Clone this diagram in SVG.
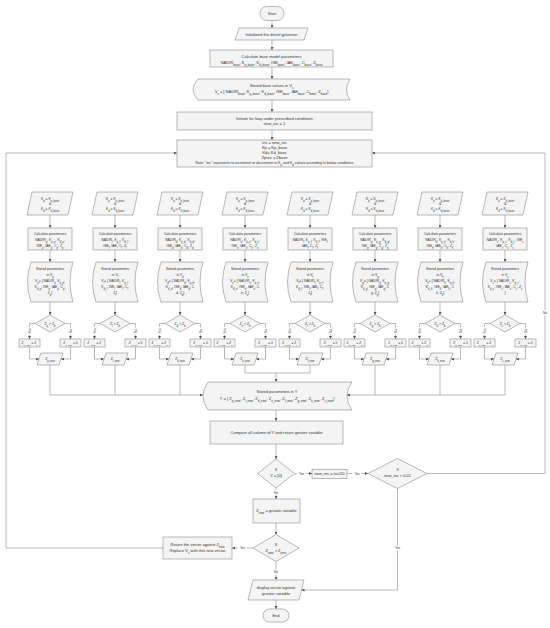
<svg xmlns="http://www.w3.org/2000/svg" width="550" height="628" viewBox="0 0 550 628">
<defs>
<style>
.n{fill:#f4f4f4;stroke:#8c8c8c;stroke-width:0.6}
.t{font-family:"Liberation Sans",Arial,sans-serif;font-size:4px;fill:#333;text-anchor:middle}
.ts{font-size:3.4px}
.tb{font-size:3.2px}
.tl{font-family:"Liberation Sans",Arial,sans-serif;font-size:3.2px;fill:#333;text-anchor:middle}
.sb{font-size:75%;baseline-shift:sub}
.c{fill:none;stroke:#8c8c8c;stroke-width:0.6}
.a{marker-end:url(#ah)}
.bg{fill:#fff}
</style>
<marker id="ah" viewBox="0 0 6 6" refX="6" refY="3" markerWidth="3" markerHeight="3" orient="auto" markerUnits="userSpaceOnUse"><path d="M0,0 L6,3 L0,6 z" fill="#555"/></marker>
</defs>
<rect width="550" height="628" fill="#fff"/>

<g id="connectors">
<line class="c a" x1="272" y1="20.5" x2="272" y2="28"/>
<line class="c a" x1="272" y1="40" x2="272" y2="50"/>
<line class="c a" x1="272" y1="67" x2="272" y2="79"/>
<line class="c a" x1="272" y1="100" x2="272" y2="112"/>
<line class="c a" x1="272" y1="130" x2="272" y2="140"/>
<polyline class="c a" points="163,548 6,548 6,153 177,153"/>
<polyline class="c a" points="427,473.5 545,473.5 545,153 372,153"/>
<rect class="bg" x="541" y="310" width="8" height="5"/>
<text class="tl" x="545" y="313.8">No</text>
<polyline class="c a" points="50,365 50,395 203,395"/>
<line class="c" x1="115" y1="365" x2="115" y2="395"/>
<line class="c" x1="180" y1="365" x2="180" y2="395"/>
<polyline class="c a" points="505,365 505,395 347,395"/>
<line class="c" x1="375" y1="365" x2="375" y2="395"/>
<line class="c" x1="440" y1="365" x2="440" y2="395"/>
<polyline class="c" points="245,365 245,373 310,373 310,365"/>
<line class="c a" x1="276" y1="373" x2="276" y2="382"/>
<line class="c a" x1="276" y1="410" x2="276" y2="421"/>
<line class="c a" x1="276" y1="444" x2="276" y2="459"/>
<line class="c a" x1="294.5" y1="473.5" x2="312" y2="473.5"/>
<rect class="bg" x="297" y="471" width="9" height="5"/>
<text class="tl" x="301.5" y="474.7">Yes</text>
<line class="c a" x1="347" y1="473.5" x2="368" y2="473.5"/>
<rect class="bg" x="352.5" y="471" width="9" height="5"/>
<text class="tl" x="357" y="474.7">Yes</text>
<line class="c a" x1="276" y1="488" x2="276" y2="499"/>
<rect class="bg" x="272" y="490" width="8" height="5"/>
<text class="tl" x="276" y="493.7">No</text>
<line class="c a" x1="276" y1="523" x2="276" y2="534.5"/>
<line class="c a" x1="253" y1="548" x2="232" y2="548"/>
<rect class="bg" x="238" y="545.5" width="9" height="5"/>
<text class="tl" x="242.5" y="549.2">Yes</text>
<line class="c a" x1="276" y1="561.5" x2="276" y2="580"/>
<rect class="bg" x="272" y="569.5" width="8" height="5"/>
<text class="tl" x="276" y="573.2">No</text>
<polyline class="c a" points="397.5,488 397.5,590 301.5,590"/>
<rect class="bg" x="393" y="545.5" width="9" height="5"/>
<text class="tl" x="397.5" y="549.2">Yes</text>
<line class="c a" x1="276" y1="600" x2="276" y2="609"/>
<g id="col-conn">
<g transform="translate(50,0)"><line class="c a" x1="0" y1="215" x2="0" y2="228"/><line class="c a" x1="0" y1="250" x2="0" y2="262"/><line class="c a" x1="0" y1="302" x2="0" y2="315"/><polyline class="c a" points="-15,323.5 -20.5,323.5 -20.5,339"/><polyline class="c a" points="15,323.5 20.5,323.5 20.5,339"/><polyline class="c a" points="-20.5,347 -20.5,359 -11,359"/><polyline class="c a" points="20.5,347 20.5,359 11,359"/></g>
<g transform="translate(115,0)"><line class="c a" x1="0" y1="215" x2="0" y2="228"/><line class="c a" x1="0" y1="250" x2="0" y2="262"/><line class="c a" x1="0" y1="302" x2="0" y2="315"/><polyline class="c a" points="-15,323.5 -20.5,323.5 -20.5,339"/><polyline class="c a" points="15,323.5 20.5,323.5 20.5,339"/><polyline class="c a" points="-20.5,347 -20.5,359 -11,359"/><polyline class="c a" points="20.5,347 20.5,359 11,359"/></g>
<g transform="translate(180,0)"><line class="c a" x1="0" y1="215" x2="0" y2="228"/><line class="c a" x1="0" y1="250" x2="0" y2="262"/><line class="c a" x1="0" y1="302" x2="0" y2="315"/><polyline class="c a" points="-15,323.5 -20.5,323.5 -20.5,339"/><polyline class="c a" points="15,323.5 20.5,323.5 20.5,339"/><polyline class="c a" points="-20.5,347 -20.5,359 -11,359"/><polyline class="c a" points="20.5,347 20.5,359 11,359"/></g>
<g transform="translate(245,0)"><line class="c a" x1="0" y1="215" x2="0" y2="228"/><line class="c a" x1="0" y1="250" x2="0" y2="262"/><line class="c a" x1="0" y1="302" x2="0" y2="315"/><polyline class="c a" points="-15,323.5 -20.5,323.5 -20.5,339"/><polyline class="c a" points="15,323.5 20.5,323.5 20.5,339"/><polyline class="c a" points="-20.5,347 -20.5,359 -11,359"/><polyline class="c a" points="20.5,347 20.5,359 11,359"/></g>
<g transform="translate(310,0)"><line class="c a" x1="0" y1="215" x2="0" y2="228"/><line class="c a" x1="0" y1="250" x2="0" y2="262"/><line class="c a" x1="0" y1="302" x2="0" y2="315"/><polyline class="c a" points="-15,323.5 -20.5,323.5 -20.5,339"/><polyline class="c a" points="15,323.5 20.5,323.5 20.5,339"/><polyline class="c a" points="-20.5,347 -20.5,359 -11,359"/><polyline class="c a" points="20.5,347 20.5,359 11,359"/></g>
<g transform="translate(375,0)"><line class="c a" x1="0" y1="215" x2="0" y2="228"/><line class="c a" x1="0" y1="250" x2="0" y2="262"/><line class="c a" x1="0" y1="302" x2="0" y2="315"/><polyline class="c a" points="-15,323.5 -20.5,323.5 -20.5,339"/><polyline class="c a" points="15,323.5 20.5,323.5 20.5,339"/><polyline class="c a" points="-20.5,347 -20.5,359 -11,359"/><polyline class="c a" points="20.5,347 20.5,359 11,359"/></g>
<g transform="translate(440,0)"><line class="c a" x1="0" y1="215" x2="0" y2="228"/><line class="c a" x1="0" y1="250" x2="0" y2="262"/><line class="c a" x1="0" y1="302" x2="0" y2="315"/><polyline class="c a" points="-15,323.5 -20.5,323.5 -20.5,339"/><polyline class="c a" points="15,323.5 20.5,323.5 20.5,339"/><polyline class="c a" points="-20.5,347 -20.5,359 -11,359"/><polyline class="c a" points="20.5,347 20.5,359 11,359"/></g>
<g transform="translate(505,0)"><line class="c a" x1="0" y1="215" x2="0" y2="228"/><line class="c a" x1="0" y1="250" x2="0" y2="262"/><line class="c a" x1="0" y1="302" x2="0" y2="315"/><polyline class="c a" points="-15,323.5 -20.5,323.5 -20.5,339"/><polyline class="c a" points="15,323.5 20.5,323.5 20.5,339"/><polyline class="c a" points="-20.5,347 -20.5,359 -11,359"/><polyline class="c a" points="20.5,347 20.5,359 11,359"/></g>
</g>
<g id="yn-labels">
<g transform="translate(50,0)"><rect class="bg" x="-22.5" y="327" width="4" height="8"/><text class="tl" x="-331" y="-19.3" transform="rotate(-90)">Yes</text><rect class="bg" x="18.5" y="327.5" width="4" height="7"/><text class="tl" x="-331" y="21.7" transform="rotate(-90)">No</text></g>
<g transform="translate(115,0)"><rect class="bg" x="-22.5" y="327" width="4" height="8"/><text class="tl" x="-331" y="-19.3" transform="rotate(-90)">Yes</text><rect class="bg" x="18.5" y="327.5" width="4" height="7"/><text class="tl" x="-331" y="21.7" transform="rotate(-90)">No</text></g>
<g transform="translate(180,0)"><rect class="bg" x="-22.5" y="327" width="4" height="8"/><text class="tl" x="-331" y="-19.3" transform="rotate(-90)">Yes</text><rect class="bg" x="18.5" y="327.5" width="4" height="7"/><text class="tl" x="-331" y="21.7" transform="rotate(-90)">No</text></g>
<g transform="translate(245,0)"><rect class="bg" x="-22.5" y="327" width="4" height="8"/><text class="tl" x="-331" y="-19.3" transform="rotate(-90)">Yes</text><rect class="bg" x="18.5" y="327.5" width="4" height="7"/><text class="tl" x="-331" y="21.7" transform="rotate(-90)">No</text></g>
<g transform="translate(310,0)"><rect class="bg" x="-22.5" y="327" width="4" height="8"/><text class="tl" x="-331" y="-19.3" transform="rotate(-90)">Yes</text><rect class="bg" x="18.5" y="327.5" width="4" height="7"/><text class="tl" x="-331" y="21.7" transform="rotate(-90)">No</text></g>
<g transform="translate(375,0)"><rect class="bg" x="-22.5" y="327" width="4" height="8"/><text class="tl" x="-331" y="-19.3" transform="rotate(-90)">Yes</text><rect class="bg" x="18.5" y="327.5" width="4" height="7"/><text class="tl" x="-331" y="21.7" transform="rotate(-90)">No</text></g>
<g transform="translate(440,0)"><rect class="bg" x="-22.5" y="327" width="4" height="8"/><text class="tl" x="-331" y="-19.3" transform="rotate(-90)">Yes</text><rect class="bg" x="18.5" y="327.5" width="4" height="7"/><text class="tl" x="-331" y="21.7" transform="rotate(-90)">No</text></g>
<g transform="translate(505,0)"><rect class="bg" x="-22.5" y="327" width="4" height="8"/><text class="tl" x="-331" y="-19.3" transform="rotate(-90)">Yes</text><rect class="bg" x="18.5" y="327.5" width="4" height="7"/><text class="tl" x="-331" y="21.7" transform="rotate(-90)">No</text></g>
</g>
</g>

<g id="start"><rect class="n" x="260" y="6.5" width="24" height="14" rx="7"/><text class="t" x="272" y="15">Start</text></g>
<g id="init"><polygon class="n" points="239,28 308,28 304,40 235,40"/><text class="t" x="271.5" y="35.5">Initialized the diesel governor</text></g>
<g id="calc-base"><rect class="n" x="210" y="50" width="123" height="17"/><text class="t" x="271.5" y="57.5">Calculate base model parameters</text><text class="t" x="271.5" y="63.5">NADIR<tspan class="sb">base</tspan>, K<tspan class="sb">p_base</tspan>, K<tspan class="sb">d_base</tspan>, ISE<tspan class="sb">base</tspan>, IAE<tspan class="sb">base</tspan>, C<tspan class="sb">base</tspan>, Z<tspan class="sb">base</tspan></text></g>
<g id="store-base"><path class="n" d="M198,79 H350 Q343,89.5 350,100 H198 Q188,89.5 198,79 Z"/><text class="t" x="271.5" y="86.5">Stored base values in V<tspan class="sb">s</tspan></text><text class="t" x="271.5" y="93">V<tspan class="sb">s</tspan> = [ NADIR<tspan class="sb">base</tspan>, K<tspan class="sb">p_base</tspan>, K<tspan class="sb">d_base</tspan>, ISE<tspan class="sb">base</tspan>, IAE<tspan class="sb">base</tspan>, C<tspan class="sb">base</tspan>, Z<tspan class="sb">base</tspan>]</text></g>
<g id="loop-init"><rect class="n" x="177" y="112" width="195" height="18"/><text class="t" x="274.5" y="119.5">Initiate for loop under prescribed conditions</text><text class="t" x="274.5" y="125">new_inc = 1</text></g>
<g id="inc"><rect class="n" x="177" y="140" width="195" height="27"/><text class="t" x="274.5" y="144.3">inc = new_inc</text><text class="t" x="274.5" y="149.1">Kp = Kp_base</text><text class="t" x="274.5" y="153.9">Kd= Kd_base</text><text class="t" x="274.5" y="158.7">Zprev = Zbase</text><text class="t" x="274.5" y="163.7" style="font-size:3.6px">Note: "inc" represents to increment or decrement in K<tspan class="sb">p</tspan> and K<tspan class="sb">d</tspan> values according to below conditions</text></g>

<g id="columns">
<g id="col-p" transform="translate(50,0)">
<g id="set-p"><polygon class="n" points="-18,192 23,192 18,215 -23,215"/><text class="t ts" x="0" y="199.5">K<tspan class="sb">p</tspan> = K<tspan class="sb">p_base</tspan></text><text class="t ts" x="0" y="204.5">&amp;</text><text class="t ts" x="0" y="210">K<tspan class="sb">d</tspan> = K<tspan class="sb">d_base</tspan></text></g>
<g id="calc-p"><rect class="n" x="-22" y="228" width="44" height="22"/><text class="t ts" x="0" y="234.5">Calculate parameters</text><text class="t ts" x="0" y="240.5">NADIR<tspan class="sb">p</tspan>, K<tspan class="sb">p_p</tspan>, K<tspan class="sb">d_p</tspan>,</text><text class="t ts" x="0" y="246.5">ISE<tspan class="sb">p</tspan>, IAE<tspan class="sb">p</tspan>, C<tspan class="sb">p</tspan>, Z<tspan class="sb">p</tspan></text></g>
<g id="store-p"><path class="n" d="M-19,262 H23 Q17,282 23,302 H-19 Q-26,282 -19,262 Z"/><text class="t ts" x="0" y="270">Stored parameters</text><text class="t ts" x="0" y="275.5">in V<tspan class="sb">p</tspan></text><text class="t ts" x="0" y="282">V<tspan class="sb">p</tspan>= [ NADIR<tspan class="sb">p</tspan>, K<tspan class="sb">p_p</tspan>,</text><text class="t ts" x="0" y="288">K<tspan class="sb">d_p</tspan>, ISE<tspan class="sb">p</tspan>, IAE<tspan class="sb">p</tspan>, C<tspan class="sb">p</tspan>,</text><text class="t ts" x="0" y="294">Z<tspan class="sb">p</tspan>]</text></g>
<g id="dec-p"><polygon class="n" points="0,315 15,323.5 0,332 -15,323.5"/><text class="t ts" x="0" y="324.8">Z<tspan class="sb">p</tspan> &gt; Z<tspan class="sb">b</tspan></text></g>
<g id="yes-p"><rect class="n" x="-31" y="339" width="21" height="8"/><text class="t tb" x="-20.5" y="344.2">Z<tspan class="sb">p_new</tspan> = Z<tspan class="sb">p</tspan></text></g>
<g id="no-p"><rect class="n" x="10" y="339" width="21" height="8"/><text class="t tb" x="20.5" y="344.2">Z<tspan class="sb">p_new</tspan> = 0</text></g>
<g id="out-p"><polygon class="n" points="-9,353 13,353 9,365 -13,365"/><text class="t ts" x="0" y="360.3">Z<tspan class="sb">p_new</tspan></text></g>
</g>
<g id="col-l" transform="translate(115,0)">
<g id="set-l"><polygon class="n" points="-18,192 23,192 18,215 -23,215"/><text class="t ts" x="0" y="199.5">K<tspan class="sb">p</tspan> = K<tspan class="sb">p_base</tspan></text><text class="t ts" x="0" y="204.5">&amp;</text><text class="t ts" x="0" y="210">K<tspan class="sb">d</tspan> = K<tspan class="sb">d_base</tspan></text></g>
<g id="calc-l"><rect class="n" x="-22" y="228" width="44" height="22"/><text class="t ts" x="0" y="234.5">Calculate parameters</text><text class="t ts" x="0" y="240.5">NADIR<tspan class="sb">l</tspan>, K<tspan class="sb">p_l</tspan>, K<tspan class="sb">d_l</tspan>,</text><text class="t ts" x="0" y="246.5">ISE<tspan class="sb">l</tspan>, IAE<tspan class="sb">l</tspan>, C<tspan class="sb">l</tspan>, Z<tspan class="sb">l</tspan></text></g>
<g id="store-l"><path class="n" d="M-19,262 H23 Q17,282 23,302 H-19 Q-26,282 -19,262 Z"/><text class="t ts" x="0" y="270">Stored parameters</text><text class="t ts" x="0" y="275.5">in V<tspan class="sb">l</tspan></text><text class="t ts" x="0" y="282">V<tspan class="sb">l</tspan>= [ NADIR<tspan class="sb">l</tspan>, K<tspan class="sb">p_l</tspan>,</text><text class="t ts" x="0" y="288">K<tspan class="sb">d_l</tspan>, ISE<tspan class="sb">l</tspan>, IAE<tspan class="sb">l</tspan>, C<tspan class="sb">l</tspan>,</text><text class="t ts" x="0" y="294">Z<tspan class="sb">l</tspan>]</text></g>
<g id="dec-l"><polygon class="n" points="0,315 15,323.5 0,332 -15,323.5"/><text class="t ts" x="0" y="324.8">Z<tspan class="sb">l</tspan> &gt; Z<tspan class="sb">b</tspan></text></g>
<g id="yes-l"><rect class="n" x="-31" y="339" width="21" height="8"/><text class="t tb" x="-20.5" y="344.2">Z<tspan class="sb">l_new</tspan> = Z<tspan class="sb">l</tspan></text></g>
<g id="no-l"><rect class="n" x="10" y="339" width="21" height="8"/><text class="t tb" x="20.5" y="344.2">Z<tspan class="sb">l_new</tspan> = 0</text></g>
<g id="out-l"><polygon class="n" points="-9,353 13,353 9,365 -13,365"/><text class="t ts" x="0" y="360.3">Z<tspan class="sb">l_new</tspan></text></g>
</g>
<g id="col-d" transform="translate(180,0)">
<g id="set-d"><polygon class="n" points="-18,192 23,192 18,215 -23,215"/><text class="t ts" x="0" y="199.5">K<tspan class="sb">p</tspan> = K<tspan class="sb">p_base</tspan></text><text class="t ts" x="0" y="204.5">&amp;</text><text class="t ts" x="0" y="210">K<tspan class="sb">d</tspan> = K<tspan class="sb">d_base</tspan></text></g>
<g id="calc-d"><rect class="n" x="-22" y="228" width="44" height="22"/><text class="t ts" x="0" y="234.5">Calculate parameters</text><text class="t ts" x="0" y="240.5">NADIR<tspan class="sb">d</tspan>, K<tspan class="sb">p_d</tspan>, K<tspan class="sb">d_d</tspan>,</text><text class="t ts" x="0" y="246.5">ISE<tspan class="sb">d</tspan>, IAE<tspan class="sb">d</tspan>, C<tspan class="sb">d</tspan>, Z<tspan class="sb">d</tspan></text></g>
<g id="store-d"><path class="n" d="M-19,262 H23 Q17,282 23,302 H-19 Q-26,282 -19,262 Z"/><text class="t ts" x="0" y="270">Stored parameters</text><text class="t ts" x="0" y="275.5">in V<tspan class="sb">d</tspan></text><text class="t ts" x="0" y="282">V<tspan class="sb">d</tspan>= [ NADIR<tspan class="sb">d</tspan>, K<tspan class="sb">p_d</tspan>,</text><text class="t ts" x="0" y="288">K<tspan class="sb">d_d</tspan>, ISE<tspan class="sb">d</tspan>, IAE<tspan class="sb">d</tspan>, C</text><text class="t ts" x="0" y="294">d, Z<tspan class="sb">d</tspan>]</text></g>
<g id="dec-d"><polygon class="n" points="0,315 15,323.5 0,332 -15,323.5"/><text class="t ts" x="0" y="324.8">Z<tspan class="sb">d</tspan> &gt; Z<tspan class="sb">b</tspan></text></g>
<g id="yes-d"><rect class="n" x="-31" y="339" width="21" height="8"/><text class="t tb" x="-20.5" y="344.2">Z<tspan class="sb">d_new</tspan> = Z<tspan class="sb">d</tspan></text></g>
<g id="no-d"><rect class="n" x="10" y="339" width="21" height="8"/><text class="t tb" x="20.5" y="344.2">Z<tspan class="sb">d_new</tspan> = 0</text></g>
<g id="out-d"><polygon class="n" points="-9,353 13,353 9,365 -13,365"/><text class="t ts" x="0" y="360.3">Z<tspan class="sb">d_new</tspan></text></g>
</g>
<g id="col-e" transform="translate(245,0)">
<g id="set-e"><polygon class="n" points="-18,192 23,192 18,215 -23,215"/><text class="t ts" x="0" y="199.5">K<tspan class="sb">p</tspan> = K<tspan class="sb">p_base</tspan></text><text class="t ts" x="0" y="204.5">&amp;</text><text class="t ts" x="0" y="210">K<tspan class="sb">d</tspan> = K<tspan class="sb">d_base</tspan></text></g>
<g id="calc-e"><rect class="n" x="-22" y="228" width="44" height="22"/><text class="t ts" x="0" y="234.5">Calculate parameters</text><text class="t ts" x="0" y="240.5">NADIR<tspan class="sb">e</tspan>, K<tspan class="sb">p_e</tspan>, K<tspan class="sb">d_e</tspan>,</text><text class="t ts" x="0" y="246.5">ISE<tspan class="sb">e</tspan>, IAE<tspan class="sb">e</tspan>, C<tspan class="sb">e</tspan>, Z<tspan class="sb">e</tspan></text></g>
<g id="store-e"><path class="n" d="M-19,262 H23 Q17,282 23,302 H-19 Q-26,282 -19,262 Z"/><text class="t ts" x="0" y="270">Stored parameters</text><text class="t ts" x="0" y="275.5">in V<tspan class="sb">e</tspan></text><text class="t ts" x="0" y="282">V<tspan class="sb">e</tspan>= [ NADIR<tspan class="sb">e</tspan>, K<tspan class="sb">p_e</tspan>,</text><text class="t ts" x="0" y="288">K<tspan class="sb">d_e</tspan>, ISE<tspan class="sb">e</tspan>, IAE<tspan class="sb">e</tspan>, C</text><text class="t ts" x="0" y="294">e, Z<tspan class="sb">e</tspan>]</text></g>
<g id="dec-e"><polygon class="n" points="0,315 15,323.5 0,332 -15,323.5"/><text class="t ts" x="0" y="324.8">Z<tspan class="sb">e</tspan> &gt; Z<tspan class="sb">b</tspan></text></g>
<g id="yes-e"><rect class="n" x="-31" y="339" width="21" height="8"/><text class="t tb" x="-20.5" y="344.2">Z<tspan class="sb">e_new</tspan> = Z<tspan class="sb">e</tspan></text></g>
<g id="no-e"><rect class="n" x="10" y="339" width="21" height="8"/><text class="t tb" x="20.5" y="344.2">Z<tspan class="sb">e_new</tspan> = 0</text></g>
<g id="out-e"><polygon class="n" points="-9,353 13,353 9,365 -13,365"/><text class="t ts" x="0" y="360.3">Z<tspan class="sb">e_new</tspan></text></g>
</g>
<g id="col-f" transform="translate(310,0)">
<g id="set-f"><polygon class="n" points="-18,192 23,192 18,215 -23,215"/><text class="t ts" x="0" y="199.5">K<tspan class="sb">p</tspan> = K<tspan class="sb">p_base</tspan></text><text class="t ts" x="0" y="204.5">&amp;</text><text class="t ts" x="0" y="210">K<tspan class="sb">d</tspan> = K<tspan class="sb">d_base</tspan></text></g>
<g id="calc-f"><rect class="n" x="-22" y="228" width="44" height="22"/><text class="t ts" x="0" y="234.5">Calculate parameters</text><text class="t ts" x="0" y="240.5">NADIR<tspan class="sb">f</tspan>, K<tspan class="sb">p_f</tspan>, K<tspan class="sb">d_f</tspan>, ISE<tspan class="sb">f</tspan></text><text class="t ts" x="0" y="246.5">IAE<tspan class="sb">f</tspan>, C<tspan class="sb">f</tspan>, Z<tspan class="sb">f</tspan></text></g>
<g id="store-f"><path class="n" d="M-19,262 H23 Q17,282 23,302 H-19 Q-26,282 -19,262 Z"/><text class="t ts" x="0" y="270">Stored parameters</text><text class="t ts" x="0" y="275.5">in V<tspan class="sb">f</tspan></text><text class="t ts" x="0" y="282">V<tspan class="sb">f</tspan>= [ NADIR<tspan class="sb">f</tspan>, K<tspan class="sb">p_f</tspan>,</text><text class="t ts" x="0" y="288">K<tspan class="sb">d_f</tspan>, ISE<tspan class="sb">f</tspan>, IAE<tspan class="sb">f</tspan>, C<tspan class="sb">f</tspan>,</text><text class="t ts" x="0" y="294">Z<tspan class="sb">f</tspan>]</text></g>
<g id="dec-f"><polygon class="n" points="0,315 15,323.5 0,332 -15,323.5"/><text class="t ts" x="0" y="324.8">Z<tspan class="sb">f</tspan> &gt; Z<tspan class="sb">b</tspan></text></g>
<g id="yes-f"><rect class="n" x="-31" y="339" width="21" height="8"/><text class="t tb" x="-20.5" y="344.2">Z<tspan class="sb">f_new</tspan> = Z<tspan class="sb">f</tspan></text></g>
<g id="no-f"><rect class="n" x="10" y="339" width="21" height="8"/><text class="t tb" x="20.5" y="344.2">Z<tspan class="sb">f_new</tspan> = 0</text></g>
<g id="out-f"><polygon class="n" points="-9,353 13,353 9,365 -13,365"/><text class="t ts" x="0" y="360.3">Z<tspan class="sb">f_new</tspan></text></g>
</g>
<g id="col-g" transform="translate(375,0)">
<g id="set-g"><polygon class="n" points="-18,192 23,192 18,215 -23,215"/><text class="t ts" x="0" y="199.5">K<tspan class="sb">p</tspan> = K<tspan class="sb">p_base</tspan></text><text class="t ts" x="0" y="204.5">&amp;</text><text class="t ts" x="0" y="210">K<tspan class="sb">d</tspan> = K<tspan class="sb">d_base</tspan></text></g>
<g id="calc-g"><rect class="n" x="-22" y="228" width="44" height="22"/><text class="t ts" x="0" y="234.5">Calculate parameters</text><text class="t ts" x="0" y="240.5">NADIR<tspan class="sb">g</tspan>, K<tspan class="sb">p_g</tspan>, K<tspan class="sb">d_g</tspan>,</text><text class="t ts" x="0" y="246.5">ISE<tspan class="sb">g</tspan>, IAE<tspan class="sb">g</tspan>, C<tspan class="sb">g</tspan>, Z<tspan class="sb">g</tspan></text></g>
<g id="store-g"><path class="n" d="M-19,262 H23 Q17,282 23,302 H-19 Q-26,282 -19,262 Z"/><text class="t ts" x="0" y="270">Stored parameters</text><text class="t ts" x="0" y="275.5">in V<tspan class="sb">g</tspan></text><text class="t ts" x="0" y="282">V<tspan class="sb">g</tspan>= [ NADIR<tspan class="sb">g</tspan>, K<tspan class="sb">p_g</tspan>,</text><text class="t ts" x="0" y="288">K<tspan class="sb">d_g</tspan>, ISE<tspan class="sb">g</tspan>, IAE<tspan class="sb">g</tspan>, C</text><text class="t ts" x="0" y="294">g, Z<tspan class="sb">g</tspan>]</text></g>
<g id="dec-g"><polygon class="n" points="0,315 15,323.5 0,332 -15,323.5"/><text class="t ts" x="0" y="324.8">Z<tspan class="sb">g</tspan> &gt; Z<tspan class="sb">b</tspan></text></g>
<g id="yes-g"><rect class="n" x="-31" y="339" width="21" height="8"/><text class="t tb" x="-20.5" y="344.2">Z<tspan class="sb">g_new</tspan> = Z<tspan class="sb">g</tspan></text></g>
<g id="no-g"><rect class="n" x="10" y="339" width="21" height="8"/><text class="t tb" x="20.5" y="344.2">Z<tspan class="sb">g_new</tspan> = 0</text></g>
<g id="out-g"><polygon class="n" points="-9,353 13,353 9,365 -13,365"/><text class="t ts" x="0" y="360.3">Z<tspan class="sb">g_new</tspan></text></g>
</g>
<g id="col-h" transform="translate(440,0)">
<g id="set-h"><polygon class="n" points="-18,192 23,192 18,215 -23,215"/><text class="t ts" x="0" y="199.5">K<tspan class="sb">p</tspan> = K<tspan class="sb">p_base</tspan></text><text class="t ts" x="0" y="204.5">&amp;</text><text class="t ts" x="0" y="210">K<tspan class="sb">d</tspan> = K<tspan class="sb">d_base</tspan></text></g>
<g id="calc-h"><rect class="n" x="-22" y="228" width="44" height="22"/><text class="t ts" x="0" y="234.5">Calculate parameters</text><text class="t ts" x="0" y="240.5">NADIR<tspan class="sb">h</tspan>, K<tspan class="sb">p_h</tspan>, K<tspan class="sb">d_h</tspan>,</text><text class="t ts" x="0" y="246.5">ISE<tspan class="sb">h</tspan>, IAE<tspan class="sb">h</tspan>, C<tspan class="sb">h</tspan>, Z<tspan class="sb">h</tspan></text></g>
<g id="store-h"><path class="n" d="M-19,262 H23 Q17,282 23,302 H-19 Q-26,282 -19,262 Z"/><text class="t ts" x="0" y="270">Stored parameters</text><text class="t ts" x="0" y="275.5">in V<tspan class="sb">h</tspan></text><text class="t ts" x="0" y="282">V<tspan class="sb">h</tspan>= [ NADIR<tspan class="sb">h</tspan>, K<tspan class="sb">p_h</tspan>,</text><text class="t ts" x="0" y="288">K<tspan class="sb">d_h</tspan>, ISE<tspan class="sb">h</tspan>, IAE<tspan class="sb">h</tspan>, C</text><text class="t ts" x="0" y="294">h, Z<tspan class="sb">h</tspan>]</text></g>
<g id="dec-h"><polygon class="n" points="0,315 15,323.5 0,332 -15,323.5"/><text class="t ts" x="0" y="324.8">Z<tspan class="sb">h</tspan> &gt; Z<tspan class="sb">b</tspan></text></g>
<g id="yes-h"><rect class="n" x="-31" y="339" width="21" height="8"/><text class="t tb" x="-20.5" y="344.2">Z<tspan class="sb">h_new</tspan> = Z<tspan class="sb">h</tspan></text></g>
<g id="no-h"><rect class="n" x="10" y="339" width="21" height="8"/><text class="t tb" x="20.5" y="344.2">Z<tspan class="sb">h_new</tspan> = 0</text></g>
<g id="out-h"><polygon class="n" points="-9,353 13,353 9,365 -13,365"/><text class="t ts" x="0" y="360.3">Z<tspan class="sb">h_new</tspan></text></g>
</g>
<g id="col-c" transform="translate(505,0)">
<g id="set-c"><polygon class="n" points="-18,192 23,192 18,215 -23,215"/><text class="t ts" x="0" y="199.5">K<tspan class="sb">p</tspan> = K<tspan class="sb">p_base</tspan></text><text class="t ts" x="0" y="204.5">&amp;</text><text class="t ts" x="0" y="210">K<tspan class="sb">d</tspan> = K<tspan class="sb">d_base</tspan></text></g>
<g id="calc-c"><rect class="n" x="-22" y="228" width="44" height="22"/><text class="t ts" x="0" y="234.5">Calculate parameters</text><text class="t ts" x="0" y="240.5">NADIR<tspan class="sb">c</tspan>, K<tspan class="sb">p_c</tspan>, K<tspan class="sb">d_c</tspan>, ISE<tspan class="sb">c</tspan></text><text class="t ts" x="0" y="246.5">IAE<tspan class="sb">c</tspan>, C<tspan class="sb">c</tspan>, Z<tspan class="sb">c</tspan></text></g>
<g id="store-c"><path class="n" d="M-19,262 H23 Q17,282 23,302 H-19 Q-26,282 -19,262 Z"/><text class="t ts" x="0" y="270">Stored parameters</text><text class="t ts" x="0" y="275.5">in V<tspan class="sb">c</tspan></text><text class="t ts" x="0" y="282">V<tspan class="sb">c</tspan>= [ NADIR<tspan class="sb">c</tspan>, K<tspan class="sb">p_c</tspan>,</text><text class="t ts" x="0" y="288"><tspan>K<tspan class="sb">d_c</tspan>, ISE<tspan class="sb">c</tspan>, IAE<tspan class="sb">c</tspan>, C<tspan class="sb">c</tspan>, Z<tspan class="sb">c</tspan></tspan><tspan x="0" dy="6">]</tspan></text></g>
<g id="dec-c"><polygon class="n" points="0,315 15,323.5 0,332 -15,323.5"/><text class="t ts" x="0" y="324.8">Z<tspan class="sb">c</tspan> &gt; Z<tspan class="sb">b</tspan></text></g>
<g id="yes-c"><rect class="n" x="-31" y="339" width="21" height="8"/><text class="t tb" x="-20.5" y="344.2">Z<tspan class="sb">c_new</tspan> = Z<tspan class="sb">c</tspan></text></g>
<g id="no-c"><rect class="n" x="10" y="339" width="21" height="8"/><text class="t tb" x="20.5" y="344.2">Z<tspan class="sb">c_new</tspan> = 0</text></g>
<g id="out-c"><polygon class="n" points="-9,353 13,353 9,365 -13,365"/><text class="t ts" x="0" y="360.3">Z<tspan class="sb">c_new</tspan></text></g>
</g>
</g>

<g id="store-y"><path class="n" d="M208,382 H352 Q342,396 352,410 H208 Q198,396 208,382 Z"/><text class="t" x="277" y="393">Stored parameters in Y</text><text class="t" x="277" y="399.5">Y = [ Z<tspan class="sb">p_new</tspan>, Z<tspan class="sb">l_new</tspan>, Z<tspan class="sb">d_new</tspan>, Z<tspan class="sb">e_new</tspan>, Z<tspan class="sb">f_new</tspan>, Z<tspan class="sb">g_new</tspan>, Z<tspan class="sb">h_new</tspan>, Z<tspan class="sb">c_new</tspan>]</text></g>
<g id="compare"><rect class="n" x="210" y="421" width="133" height="23"/><text class="t" x="276.5" y="434">Compare all column of Y and return greater variable</text></g>
<g id="dec-y0"><polygon class="n" points="276,459 294.5,473.5 276,488 257.5,473.5"/><text class="t" x="276" y="471"><tspan x="276" y="471">If</tspan><tspan x="276" y="476.5">Y = [0]</tspan></text></g>
<g id="new-inc"><rect class="n" x="312" y="469.5" width="35" height="9"/><text class="t" x="329.5" y="475.2">new_inc = inc/10</text></g>
<g id="dec-inc"><polygon class="n" points="397.5,458.5 427,473.5 397.5,488.5 368,473.5"/><text class="t" x="397.5" y="471"><tspan x="397.5" y="471">If</tspan><tspan x="397.5" y="476.5">new_inc &lt; 0.01</tspan></text></g>
<g id="znew"><rect class="n" x="253" y="499" width="47" height="24"/><text class="t" x="276.5" y="512.3">Z<tspan class="sb">new</tspan> = greater variable</text></g>
<g id="dec-z"><polygon class="n" points="276,534.5 299,548 276,561.5 253,548"/><text class="t" x="276" y="546"><tspan x="276" y="546">If</tspan><tspan x="276" y="551.5">Z<tspan class="sb">new</tspan> &gt; Z<tspan class="sb">prev</tspan></tspan></text></g>
<g id="return"><rect class="n" x="163" y="537" width="69" height="22"/><text class="t" x="197.5" y="545.5">Return the vector against Z<tspan class="sb">new</tspan></text><text class="t" x="197.5" y="552">Replace V<tspan class="sb">s</tspan> with this new vector</text></g>
<g id="display"><polygon class="n" points="253,580 304,580 299,600 248,600"/><text class="t" x="276" y="588.5">display vector against</text><text class="t" x="276" y="594.5">greater variable</text></g>
<g id="end"><rect class="n" x="263" y="609" width="26" height="13" rx="6.5"/><text class="t" x="276" y="617">End</text></g>
</svg>
